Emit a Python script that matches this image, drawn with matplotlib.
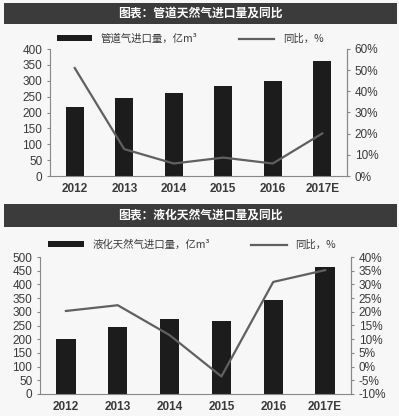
import matplotlib.pyplot as plt
from matplotlib.patches import Rectangle
from matplotlib.ticker import FuncFormatter

plt.rcParams['font.family'] = ['Noto Sans CJK SC', 'DejaVu Sans']

years = ["2012", "2013", "2014", "2015", "2016", "2017E"]

# pipeline gas imports (100 million m3) and yoy growth (%)
pipe_vol = [218, 245, 260, 284, 300, 362]
pipe_yoy = [51, 12.7, 5.9, 8.7, 5.9, 20.1]

# LNG imports (100 million m3) and yoy growth (%)
lng_vol = [200, 246, 272, 265, 344, 465]
lng_yoy = [20.3, 22.4, 11.5, -3.6, 30.9, 35.2]

W, H = 399, 416
fig = plt.figure(figsize=(W / 100, H / 100), dpi=100)
fig.patch.set_facecolor("#f7f7f7")

BAR = "#1c1c1c"
LINE = "#606060"
TXT = "#3a3a3a"
NUM = "Liberation Sans"


def px_axes(left, top, right, bottom):
    return fig.add_axes([left / W, 1 - bottom / H, (right - left) / W, (bottom - top) / H])


def title_bar(top, bottom, text):
    fig.patches.append(Rectangle((4 / W, 1 - bottom / H), 393 / W, (bottom - top) / H,
                                 transform=fig.transFigure, facecolor="#3b3b3b",
                                 edgecolor="none"))
    fig.text(200 / W, 1 - (top + bottom) / 2 / H, text, color="white", fontsize=8.5,
             fontweight="bold", ha="center", va="center")


def draw(ax, vol, yoy, ymax, ystep, rlim, rstep, bar_label):
    x = range(len(years))
    ax.set_facecolor("none")
    bars = ax.bar(x, vol, width=0.37, color=BAR, label=bar_label)
    ax.set_xlim(-0.5, len(years) - 0.5)
    ax.set_ylim(0, ymax)
    ax.set_yticks(range(0, ymax + 1, ystep))
    ax.set_xticks(list(x))
    ax.set_xticklabels(years, fontsize=8.5, color=TXT, fontweight="bold", family=NUM)
    for t in ax.get_yticklabels():
        t.set_family(NUM)
    ax.tick_params(axis="y", labelsize=8.5, labelcolor=TXT, length=2, color="#888888")
    ax.tick_params(axis="x", length=0, pad=5)
    ax.spines["top"].set_visible(False)
    for s in ["left", "right", "bottom"]:
        ax.spines[s].set_color("#888888")
        ax.spines[s].set_linewidth(0.8)

    ax2 = ax.twinx()
    line, = ax2.plot(x, yoy, color=LINE, linewidth=1.6, label="同比，%")
    ax2.set_ylim(*rlim)
    ax2.set_yticks(range(rlim[0], rlim[1] + 1, rstep))
    ax2.yaxis.set_major_formatter(FuncFormatter(lambda v, p: f"{v:.0f}%"))
    ax2.tick_params(axis="y", labelsize=8.5, labelcolor=TXT, length=2, color="#888888")
    for t in ax2.get_yticklabels():
        t.set_family(NUM)
    ax2.spines["top"].set_visible(False)
    ax2.spines["right"].set_color("#888888")
    ax2.spines["left"].set_visible(False)
    ax2.spines["bottom"].set_visible(False)
    return bars, line


# top chart
title_bar(3, 24, "图表：管道天然气进口量及同比")
ax1 = px_axes(50, 49, 347, 176)
b1, l1 = draw(ax1, pipe_vol, pipe_yoy, 400, 50, (0, 60), 10, "管道气进口量，亿m³")
fig.legend([b1, l1], [b1.get_label(), l1.get_label()], loc="center",
           bbox_to_anchor=(190 / W, 1 - 39 / H), ncol=2, frameon=False,
           fontsize=7.5, handlelength=3.4, handleheight=0.5, columnspacing=4,
           labelcolor=TXT)

# bottom chart
title_bar(204, 227, "图表：液化天然气进口量及同比")
ax3 = px_axes(40, 257, 351, 394)
b2, l2 = draw(ax3, lng_vol, lng_yoy, 500, 50, (-10, 40), 5, "液化天然气进口量，亿m³")
fig.legend([b2, l2], [b2.get_label(), l2.get_label()], loc="center",
           bbox_to_anchor=(192 / W, 1 - 245 / H), ncol=2, frameon=False,
           fontsize=7.5, handlelength=3.4, handleheight=0.5, columnspacing=4,
           labelcolor=TXT)

fig.savefig("out.png", dpi=100, facecolor=fig.get_facecolor())
